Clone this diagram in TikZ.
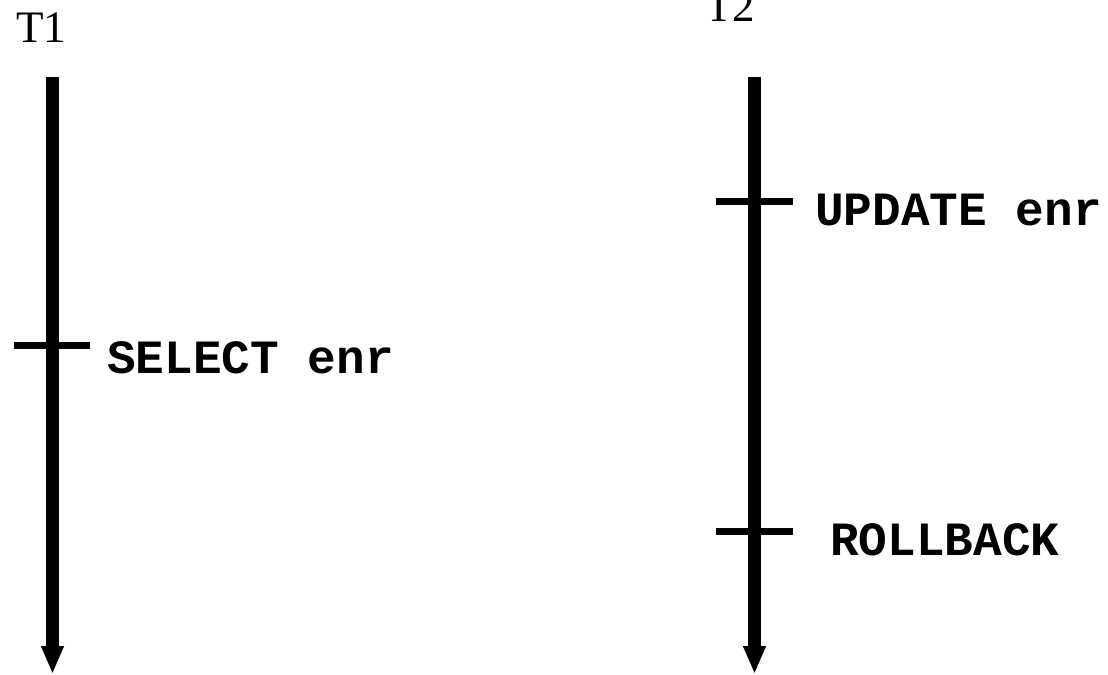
\documentclass[tikz,border=0pt]{standalone}
\usepackage{fontspec}
\setmainfont{Liberation Serif}
\setmonofont{Liberation Mono}
\usetikzlibrary{arrows.meta}

\tikzset{
  timeline/.style={line width=9.75pt, -{Triangle[width=15.75pt,length=21pt]}},
  tick/.style={line width=5.25pt},
  trans/.style={anchor=base west, inner sep=0pt, font=\fontsize{33.75}{36}\selectfont},
  stmt/.style={anchor=base west, inner sep=0pt, font=\fontsize{35.8}{38}\selectfont\ttfamily\bfseries}
}

\begin{document}
\begin{tikzpicture}[x={(0.75pt,0)}, y={(0,-0.75pt)}]

    % constants
    \def\xta{52.5}
    \def\xtb{754.5}
    \def\ytop{77}
    \def\yend{674}

    \useasboundingbox (0,0) rectangle (1108,675);

    % transaction T1
    \node [trans] (t1) at (16,42) {T1};
    \coordinate (t1top) at (\xta,\ytop);
    \coordinate (t1end) at (\xta,\yend);
    \draw [timeline] (t1top) -- (t1end);

    \coordinate (sel) at (\xta,345.5);
    \draw [tick] ([xshift=-28.9pt]sel) -- ([xshift=28.1pt]sel);
    \node [stmt] (select) at (107,373) {SELECT enr};

    % transaction T2
    \node [trans] (t2) at (705,21) {T2};
    \coordinate (t2top) at (\xtb,\ytop);
    \coordinate (t2end) at (\xtb,\yend);
    \draw [timeline] (t2top) -- (t2end);

    \coordinate (upd) at (\xtb,201.5);
    \draw [tick] ([xshift=-28.9pt]upd) -- ([xshift=28.9pt]upd);
    \node [stmt] (update) at (815,225) {UPDATE enr};

    \coordinate (rb) at (\xtb,531.5);
    \draw [tick] ([xshift=-28.9pt]rb) -- ([xshift=28.9pt]rb);
    \node [stmt] (rollback) at (830,555) {ROLLBACK};

\end{tikzpicture}
\end{document}
